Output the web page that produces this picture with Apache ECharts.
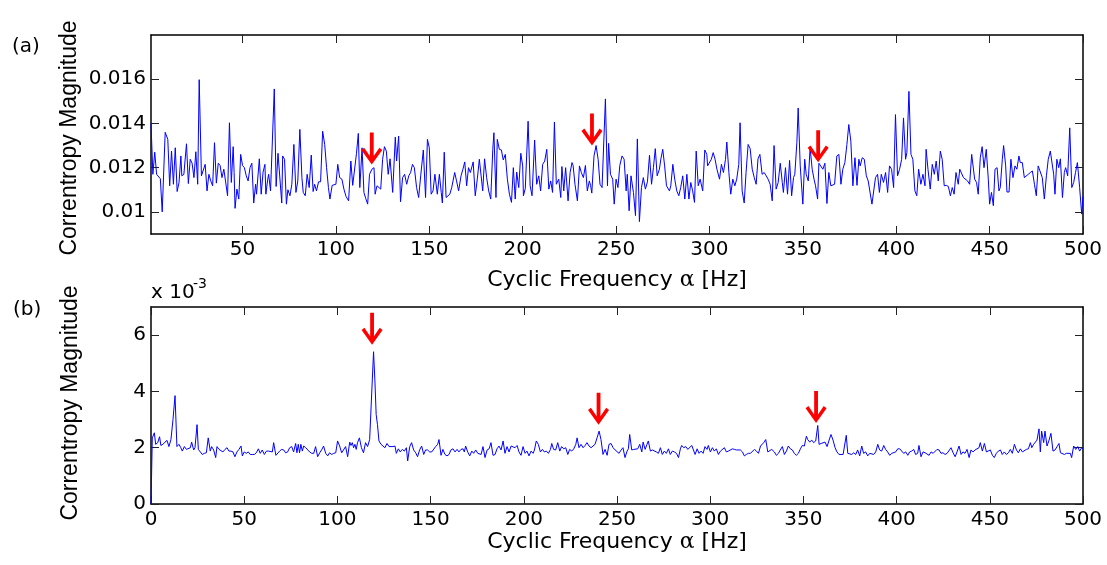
<!DOCTYPE html>
<html>
<head>
<meta charset="utf-8">
<script src="https://cdn.jsdelivr.net/npm/echarts@6/dist/echarts.min.js"></script>
<style>
html,body{margin:0;padding:0;background:#fff;}
#chart{width:1107px;height:565px;}
</style>
</head>
<body>
<div id="chart"></div>
<script>
// ---------- DATA ----------
// (a) correntropy magnitude vs cyclic frequency [Hz]
const topSpectrum = [
[1,0.0140],[2,0.0117],[3,0.0127],[4,0.0117],[5,0.01163],[6,0.0115],[7,0.0100],[8.6,0.0136],[10,0.01328],[11,0.01118],
[12,0.01275],[13,0.01125],[14,0.0129],[15,0.01092],[16,0.01133],[17,0.01253],[17.5,0.01163],[18.6,0.0117],[20,0.01308],[21,0.01128],
[22,0.01238],[23,0.0122],[24,0.01155],[25,0.01272],[26,0.01125],[26.8,0.01598],[28,0.01163],[29,0.0116],[30,0.01215],[31,0.01095],
[32,0.0117],[33,0.0114],[34,0.01118],[35,0.01313],[36,0.0113],[37,0.0122],[38,0.0121],[39,0.01155],[40,0.01193],[41,0.012],
[42,0.01073],[43,0.01403],[44,0.01133],[45,0.01295],[45.5,0.01178],[46,0.01016],[47,0.01103],[48,0.01058],[49,0.0126],[50,0.0121],
[51,0.012],[52,0.01163],[53,0.0114],[54,0.012],[55,0.0122],[56,0.0104],[57,0.01125],[57.5,0.0108],[59,0.0124],[60,0.0108],
[61,0.0118],[62,0.01215],[62.5,0.0108],[63.5,0.01148],[64,0.0117],[65,0.01095],[67,0.01556],[68,0.01115],[69,0.01265],[70,0.0127],
[71,0.0104],[71.5,0.01253],[72.5,0.01238],[73.5,0.01035],[74.3,0.011],[75.4,0.01073],[76.4,0.01125],[77.5,0.01305],[78.6,0.01088],[79.6,0.0114],
[80.7,0.01373],[81.8,0.01155],[82.5,0.01088],[83.6,0.01073],[84.6,0.0117],[85.7,0.0111],[86.8,0.01257],[87.8,0.01092],[88.6,0.01125],[89.6,0.01095],
[90.7,0.01136],[91.8,0.01136],[92.9,0.01365],[94,0.01305],[95,0.012],[96,0.0111],[96.8,0.01058],[98,0.0112],[99,0.01125],[100,0.01125],
[101,0.01215],[102,0.01155],[103.2,0.01148],[104.3,0.01103],[105.4,0.0107],[106.8,0.0105],[108,0.0123],[109,0.0112],[110,0.01125],[111,0.01263],
[112,0.01355],[112.8,0.0111],[114,0.0129],[115,0.01088],[116,0.0106],[117,0.01035],[118,0.0117],[119.3,0.01193],[120.4,0.012],[121,0.0108],
[122,0.01118],[123,0.0112],[124,0.01103],[125,0.01238],[126,0.01295],[127,0.01275],[128,0.0117],[129,0.0124],[130.4,0.01088],[131.8,0.01338],
[132.5,0.0123],[133.6,0.01343],[134.6,0.01046],[135.7,0.01155],[136.8,0.0117],[137.9,0.01125],[139,0.01163],[140,0.01178],[141,0.01215],[142,0.012],
[143.2,0.0111],[144.3,0.01065],[145.4,0.01163],[146.8,0.0128],[148,0.01065],[149,0.01328],[150,0.0129],[151,0.0108],[152,0.01095],[153,0.0117],
[154.3,0.0108],[155.4,0.0117],[156.4,0.01088],[157,0.0104],[158,0.0127],[159,0.01065],[160,0.01065],[161,0.0108],[162,0.0111],[163.6,0.01178],
[164.6,0.0114],[165.7,0.01095],[167,0.01163],[168,0.01193],[169,0.01226],[170,0.01118],[171,0.012],[172,0.01178],[173.5,0.01226],[174.6,0.01073],
[175.7,0.01148],[176.8,0.01238],[177.5,0.01238],[178.6,0.01095],[179.6,0.0124],[180.7,0.01155],[181.8,0.01095],[182.9,0.01058],[184,0.01283],[184.6,0.01358],
[185.7,0.01065],[186.4,0.01328],[187.5,0.01283],[188.6,0.0128],[189.6,0.01235],[190.7,0.0126],[191.8,0.01148],[192.9,0.0108],[194,0.01043],[195,0.012],
[196,0.01058],[196.8,0.0118],[197.9,0.0111],[199,0.01265],[200,0.01208],[200.4,0.01073],[201.4,0.01106],[202.9,0.0141],[204,0.01118],[205,0.01073],
[206.4,0.01325],[207.5,0.01125],[208.6,0.01163],[209.6,0.01095],[210.7,0.01215],[211.8,0.0123],[212.9,0.01283],[214,0.01103],[215,0.0114],[216,0.01088],
[217,0.01406],[218,0.01125],[219.3,0.01148],[220.4,0.01065],[221,0.01205],[222,0.01095],[223,0.012],[224.3,0.0105],[225.4,0.01178],[226.4,0.01223],
[227,0.0121],[228,0.01125],[229.3,0.0105],[230.4,0.01208],[231.4,0.01178],[232.5,0.01155],[233.6,0.0121],[234.6,0.01095],[235.7,0.0114],[236.4,0.01118],
[237,0.01085],[238.2,0.01253],[239.3,0.013],[240.4,0.01238],[241.4,0.01125],[242.5,0.0111],[243.2,0.01118],[244.3,0.01511],[245.4,0.01118],[246,0.0131],
[247,0.0117],[248.2,0.01148],[249,0.01035],[250,0.01148],[251,0.0111],[252,0.0121],[253.2,0.01253],[254.3,0.01238],[255.4,0.01095],[256,0.0117],
[257,0.01005],[258,0.01163],[259.3,0.01088],[260.4,0.00983],[261.4,0.0133],[262.5,0.00956],[263.6,0.0111],[264.6,0.01155],[265.7,0.01103],[266.8,0.01136],
[267.9,0.01256],[269,0.01125],[270,0.012],[271,0.01286],[272,0.01163],[273.2,0.01193],[274,0.0124],[275,0.01283],[276,0.01208],[277,0.01118],
[278.6,0.01095],[279.3,0.01118],[280.4,0.01215],[281.4,0.01148],[282.5,0.01095],[283.6,0.01073],[284.6,0.0111],[285.7,0.01163],[286.8,0.01058],[287.9,0.0117],
[289,0.01058],[290,0.01133],[291,0.01095],[292,0.01043],[292.9,0.01275],[294,0.01118],[295,0.01148],[296.4,0.01095],[297.5,0.0128],[298.6,0.0126],
[299,0.01208],[300,0.0121],[301,0.01238],[302,0.01268],[303,0.01238],[304,0.01193],[305.4,0.01148],[306.4,0.01215],[307.5,0.01178],[308.6,0.01238],
[309.3,0.01316],[310.4,0.01178],[311.4,0.0108],[312.5,0.01148],[313.6,0.01118],[314.6,0.01148],[315.7,0.01215],[316.4,0.01403],[317.5,0.01095],[318.6,0.0104],
[319.6,0.01178],[320.7,0.01305],[321.8,0.01286],[322.9,0.01193],[324,0.01155],[325,0.01125],[326,0.0124],[327,0.0126],[328.2,0.0117],[329.3,0.01178],
[330.4,0.01163],[331.4,0.01148],[332.5,0.01125],[333.6,0.0105],[334.6,0.0130],[335.7,0.01103],[336.8,0.01133],[337.9,0.0122],[339,0.01133],[339.6,0.01088],
[340.7,0.012],[341.8,0.0108],[342.9,0.01233],[344,0.01073],[345,0.01155],[345.7,0.0117],[346.8,0.01313],[347.5,0.0147],[348.6,0.01208],[350,0.01035],
[351,0.01238],[351.8,0.0117],[352.9,0.0114],[353.9,0.0129],[355,0.01193],[356,0.01148],[356.8,0.01118],[357.9,0.01058],[358.6,0.0122],[359.6,0.01223],
[360.7,0.01193],[361.8,0.0122],[362.9,0.01038],[363.9,0.01178],[365,0.01118],[366,0.01125],[367,0.01125],[368.2,0.01253],[369.3,0.0126],[370.4,0.01125],
[371.4,0.01193],[372.5,0.01223],[373.6,0.01305],[374.6,0.01395],[375.7,0.0132],[376.8,0.01118],[377.9,0.01245],[379,0.0112],[380,0.01238],[380.7,0.01208],
[381.8,0.01245],[382.9,0.01238],[384,0.01163],[385,0.0114],[386,0.0114],[387,0.01035],[387.9,0.0103],[388.9,0.01155],[390,0.0117],[391,0.01088],
[392,0.0117],[393.2,0.01133],[394.3,0.01178],[395.4,0.01088],[396.4,0.01208],[397.5,0.01193],[398.6,0.0111],[399.6,0.0144],[400.7,0.01163],[401.8,0.01193],
[402.9,0.01238],[403.9,0.01425],[405,0.01238],[405.7,0.01268],[406.8,0.01545],[407.9,0.0126],[408.9,0.01238],[410,0.01095],[411,0.01073],[412,0.01193],
[413.2,0.01125],[414.3,0.0117],[415.4,0.01118],[416,0.01283],[417,0.01193],[418.2,0.01103],[419.3,0.01215],[420.4,0.0117],[421.4,0.0123],[422.5,0.0114],
[423.6,0.01275],[424.6,0.01238],[425.7,0.01118],[426.8,0.0112],[427.9,0.01115],[429,0.01073],[430,0.0111],[431,0.0108],[432,0.01178],[433.2,0.01125],
[434,0.01193],[435,0.01193],[436,0.01155],[437,0.0115],[438.2,0.0114],[439.3,0.01125],[440.4,0.0126],[441,0.01268],[442,0.01148],[443,0.01133],
[443.9,0.0108],[445,0.01245],[446,0.01295],[447,0.012],[448.2,0.01283],[449.3,0.01148],[450,0.01035],[451,0.01088],[452,0.01028],[452.9,0.01193],
[454,0.012],[455,0.01095],[455.7,0.0111],[456.8,0.01238],[457.5,0.013],[458.6,0.01208],[459.3,0.0109],[460.4,0.0109],[461.4,0.01238],[462.5,0.01155],
[463.6,0.01208],[464.6,0.01193],[465.7,0.01253],[466.4,0.01223],[467.5,0.01223],[468.6,0.01155],[469.6,0.01163],[470.7,0.0117],[471.8,0.01178],[472.9,0.01185],
[474,0.01125],[475,0.01073],[476,0.01208],[477,0.01215],[478.2,0.01155],[479.3,0.01058],[480.4,0.01163],[481.4,0.01238],[482.5,0.01275],[483.2,0.01275],
[484.3,0.0117],[485,0.0108],[486,0.01238],[487,0.012],[487.9,0.0124],[489,0.01065],[490,0.01178],[490.7,0.012],[491.8,0.01163],[492.9,0.0138],
[494,0.0111],[495,0.01133],[496,0.01178],[497,0.01223],[498.2,0.0111],[499.3,0.0099],[500,0.0107]
];

// (b) correntropy magnitude, in units of 1e-3
const bottomSpectrum = [
[0,0],[0.7,2.35],[1.8,2.53],[2.5,2.12],[3.6,2.18],[4.6,2.39],[5.3,2.08],[6.4,2.12],[7.5,2.2],[8.6,2.26],
[9.6,2.04],[10.7,2.29],[11.8,3.0],[12.9,3.85],[13.9,2.04],[15,2.12],[16,2.0],[16.8,1.88],[17.9,2.04],[19,1.94],
[20,1.88],[21.1,2.0],[21.8,2.2],[22.9,1.92],[23.6,2.0],[24.7,2.82],[25.4,1.94],[26.4,1.92],[27.5,1.76],[28.6,1.8],
[29.7,1.82],[30.7,2.35],[31.8,1.88],[32.5,2.04],[33.6,1.92],[34.7,1.65],[35.4,2.04],[36.5,1.94],[37.5,1.96],[38.6,1.85],
[39.7,1.94],[40.8,2.0],[41.8,1.88],[42.9,1.88],[44,1.85],[45,1.68],[46.1,1.85],[47.2,1.94],[48.3,2.06],[49,1.71],
[50,1.85],[51.1,1.8],[52.2,1.85],[53.2,1.76],[54.3,1.76],[55.4,1.76],[56.5,1.82],[57.6,1.96],[58.6,1.8],[59.7,1.92],
[60.8,1.76],[61.9,1.88],[63,1.88],[64,1.92],[65.1,1.85],[65.8,2.18],[67,1.73],[68,1.71],[69,1.88],[70.1,1.94],
[71.2,1.92],[72.2,1.82],[73.3,1.85],[74.4,2.0],[75.5,2.04],[76.5,1.85],[77.6,2.15],[78.3,1.82],[79,2.12],[79.7,1.82],
[80.4,2.12],[81.2,1.88],[81.9,2.06],[83,2.0],[84,1.94],[85.1,1.85],[86.2,1.8],[87.3,1.8],[88.3,2.04],[89.4,1.68],
[90.5,1.82],[91.5,1.92],[92.6,2.06],[93.7,1.8],[94.8,1.71],[95.8,1.82],[96.9,1.76],[98,1.8],[99.1,1.82],[100.1,2.24],
[101.2,2.06],[102.3,1.82],[103.3,1.8],[104.4,2.04],[105.5,1.68],[106.6,2.2],[107.3,2.08],[108,2.18],[108.7,2.0],[109.4,2.12],
[110.1,1.94],[110.8,2.18],[111.8,2.35],[112.9,2.0],[114,1.82],[115.1,2.18],[116.2,2.04],[117.3,2.29],[118.3,2.35],[119.4,5.41],
[120.1,4.41],[120.8,3.18],[121.5,2.82],[122.3,2.24],[123.4,2.12],[124.4,2.08],[125.5,2.0],[126.6,2.15],[127.7,2.04],[128.7,2.06],
[129.8,2.04],[130.9,2.06],[131.6,1.8],[132.7,1.96],[133.7,1.85],[134.8,1.94],[135.9,1.88],[137,2.0],[137.7,1.53],[138.8,2.04],
[139.8,2.18],[140.9,1.92],[142,1.82],[143,1.68],[144.1,1.92],[145.2,2.06],[146.3,1.76],[147.3,1.92],[148.4,1.92],[149.5,1.85],
[150.6,1.85],[151.6,1.85],[152.7,2.04],[153.8,2.12],[154.5,2.29],[155.6,1.73],[156.6,1.94],[157.7,1.76],[158.8,1.71],[159.9,1.76],
[160.9,1.92],[162,1.96],[163.1,1.85],[164.2,1.94],[165.2,1.85],[166.3,1.94],[167.4,1.96],[168.1,1.85],[168.8,2.06],[169.9,1.85],
[171,1.71],[172.1,1.88],[173.1,1.8],[174.2,1.92],[175.3,1.8],[176,1.85],[177.1,1.76],[178.1,2.04],[179.2,1.65],[180.3,1.92],
[181.4,1.96],[182.4,2.18],[183.5,1.73],[184.6,1.76],[185.6,1.96],[186.7,2.06],[187.8,1.92],[188.9,2.24],[189.9,1.8],[191,2.04],
[192.1,1.85],[193.2,2.06],[194.2,2.04],[195.3,2.0],[196.4,2.08],[197.4,1.85],[198.5,1.73],[199.6,2.04],[200.7,1.8],[201.7,1.88],
[202.8,1.71],[203.9,1.88],[205,1.8],[205.7,1.92],[206.7,2.24],[207.8,2.12],[208.9,1.85],[210,1.94],[211,1.85],[212.1,1.88],
[213.2,1.8],[214.3,1.94],[215,2.15],[216,1.94],[217.1,1.92],[218.2,2.18],[219.3,1.88],[220.3,2.04],[221.4,1.96],[222.5,2.0],
[223.6,1.76],[224.6,1.94],[225.7,1.88],[226.8,1.96],[227.9,2.12],[228.6,2.35],[229.6,2.0],[230.7,2.12],[231.8,2.0],[232.9,2.08],
[233.9,2.18],[235,2.06],[236.1,2.0],[237.1,2.04],[238.2,2.12],[239.3,2.35],[240.4,2.59],[241.4,2.29],[242.5,1.76],[243.6,1.94],
[244.7,1.73],[245.7,2.12],[246.8,2.15],[247.9,2.0],[249,1.92],[250,1.85],[251.1,1.8],[252.2,1.92],[253.2,2.0],[254.3,1.65],
[255.4,1.88],[256.1,1.96],[256.8,2.47],[257.9,1.92],[259,1.94],[260,1.92],[261.1,1.96],[262.2,2.12],[263.3,1.85],[264,2.2],
[265.1,1.94],[266.1,2.12],[266.8,2.24],[267.9,1.88],[269,1.92],[270,1.85],[271.1,1.85],[272.2,1.8],[273.3,2.0],[274.3,1.76],
[275.4,1.88],[276.5,1.8],[277.6,1.96],[278.6,1.76],[279.7,1.88],[280.8,1.85],[281.9,1.8],[283,1.65],[284,1.96],[284.7,2.08],
[285.8,2.0],[286.9,2.04],[288,1.94],[289,2.0],[290.1,2.08],[290.8,2.12],[291.9,1.76],[293,1.96],[294,1.8],[295.1,1.88],
[296.2,1.8],[297.2,2.04],[298.3,1.94],[299,2.08],[300.1,1.85],[301.2,2.0],[302.2,1.88],[303.3,1.96],[304.4,1.76],[305.5,1.88],
[306.5,1.94],[307.6,2.0],[308.7,1.85],[309.8,1.88],[310.8,1.94],[311.9,1.96],[313,1.94],[314.1,1.92],[315.1,1.94],[316.2,1.92],
[317.3,1.85],[318.3,1.71],[319.4,1.76],[320.5,1.8],[321.6,1.8],[322.6,1.85],[323.7,1.94],[324.8,1.88],[325.9,1.8],[327,2.06],
[328,2.12],[328.7,2.18],[329.8,2.29],[330.9,1.85],[331.9,1.8],[333,1.94],[334.4,1.85],[335.5,1.73],[336.6,1.8],[337.6,1.92],
[338.7,2.04],[339.8,1.76],[340.9,1.88],[341.9,2.06],[343,1.96],[344.1,1.92],[345.1,1.8],[346.2,1.73],[347.3,1.8],[348.4,1.96],
[349.4,2.08],[350.5,2.06],[351.6,2.41],[352.3,2.29],[353.4,2.2],[354.5,2.27],[355.5,2.18],[356.6,2.24],[357.7,2.79],[358.4,2.12],
[359.5,2.15],[360.5,2.12],[361.6,2.2],[362.7,2.04],[363.8,2.27],[364.8,2.47],[365.9,2.27],[367,2.0],[368,1.85],[369.1,1.76],
[370.2,1.76],[371.3,1.76],[372,1.76],[373,2.44],[373.8,1.8],[374.8,1.76],[375.9,1.76],[377,1.82],[378.1,1.76],[379.1,1.92],
[380.2,1.71],[381.3,2.06],[382.3,1.8],[383.4,1.85],[384.5,1.71],[385.6,1.8],[386.6,1.82],[387.7,1.76],[388.8,1.85],[389.9,2.12],
[390.9,1.92],[392,1.88],[393.1,2.08],[394.1,1.94],[395.2,1.85],[396.3,1.73],[397.4,1.8],[398.4,1.73],[399.5,1.85],[400.6,1.96],
[401.7,1.96],[402.7,1.92],[403.8,1.8],[404.9,1.85],[406,1.73],[407,1.85],[408.1,1.88],[409.2,1.94],[410.2,1.76],[411.3,1.8],
[412,2.08],[413.1,1.68],[414.2,1.85],[415.3,1.82],[416.3,1.8],[417.4,1.73],[418.5,1.85],[419.6,1.8],[420.6,1.85],[421.7,1.94],
[422.8,1.92],[423.8,1.8],[424.9,1.82],[426,1.76],[427.1,1.8],[428.1,1.73],[429.2,2.0],[430.3,1.82],[431.4,1.68],[432.4,1.85],
[433.5,2.06],[434.6,1.76],[435.6,1.85],[436.7,1.8],[437.8,1.94],[438.9,1.65],[439.9,1.92],[441,1.85],[442.1,1.92],[443.1,1.94],
[444.2,2.0],[444.9,2.18],[446,1.88],[447.1,2.15],[448.2,1.85],[449.2,1.8],[450.3,1.92],[451.4,1.73],[452.4,1.65],[453.5,1.8],
[454.6,1.88],[455.7,1.92],[456.7,1.76],[457.8,1.85],[458.9,1.76],[460,1.82],[461,1.94],[462.1,1.8],[463.2,2.12],[464.3,1.92],
[465.3,1.82],[466.4,1.96],[467.5,1.85],[468.5,1.88],[469.6,1.94],[470.7,1.96],[471.8,2.18],[472.5,2.0],[473.5,2.12],[474.3,2.06],
[475.3,2.27],[476.4,2.67],[477.1,1.85],[477.8,2.59],[478.9,2.18],[479.6,2.59],[480.7,2.06],[481.8,2.27],[482.8,2.51],[483.9,1.88],
[485,1.92],[486.1,2.04],[487.1,2.15],[487.9,1.82],[488.9,1.8],[490,1.76],[491.1,1.8],[492.1,1.76],[493.2,1.8],[493.9,1.65],
[495,2.06],[496.1,1.94],[497.2,2.04],[498.2,1.88],[499.3,2.0],[500,1.96]
];

// red arrow markers: [frequency Hz, value at arrow tip]
const topArrows = [[119.2, 0.01214], [237.1, 0.0130], [358.2, 0.01224]];
const bottomArrows = [[118.6, 5.66], [240.1, 2.82], [356.8, 2.88]];

// tick values
const xTicksTop = [50,100,150,200,250,300,350,400,450,500];
const xTicksBottom = [0,50,100,150,200,250,300,350,400,450,500];
const yTicksTop = [0.01,0.012,0.014,0.016];
const yTicksBottom = [0,2,4,6];

const xTitle = 'Cyclic Frequency ';
const yTitle = 'Correntropy Magnitude';

// ---------- CHART ----------
const chart = echarts.init(document.getElementById('chart'), null, {renderer:'canvas'});
const FONT = 'DejaVu Sans';
const axisLine = {show:true, onZero:false, lineStyle:{color:'#000', width:1.5}};
const tickStyle = {color:'#222', width:1};

function xAx(grid, min, max, ticks, pos, labels){
  return {
    type:'value', gridIndex:grid, min:min, max:max, position:pos,
    axisLine:axisLine,
    axisTick:{show:true, inside:true, length:8, customValues:ticks, lineStyle:tickStyle},
    axisLabel:{show:labels, customValues:ticks, fontFamily:FONT, fontSize:20, color:'#000', margin:6},
    splitLine:{show:false}
  };
}
function yAx(grid, min, max, ticks, pos, labels, fmt){
  return {
    type:'value', gridIndex:grid, min:min, max:max, position:pos,
    axisLine:axisLine,
    axisTick:{show:true, inside:true, length:8, customValues:ticks, lineStyle:tickStyle},
    axisLabel:{show:labels, customValues:ticks, fontFamily:FONT, fontSize:20, color:'#000', margin:5, formatter:fmt},
    splitLine:{show:false}
  };
}
const arrowPath = 'path://M9,0 L13,0 L13,25 L19,16 L22,18.5 L11,34 L0,18.5 L3,16 L9,25 Z';

const option = {
  animation:false,
  backgroundColor:'#fff',
  grid:[
    {left:151, right:24, top:35, height:199},
    {left:151, right:24, top:307, height:197}
  ],
  xAxis:[
    xAx(0, 1, 500, xTicksTop, 'bottom', true),
    xAx(0, 1, 500, xTicksTop, 'top', false),
    xAx(1, 0, 500, xTicksBottom, 'bottom', true),
    xAx(1, 0, 500, xTicksBottom, 'top', false)
  ],
  yAxis:[
    yAx(0, 0.009, 0.018, yTicksTop, 'left', true, v => String(+(+v).toFixed(3))),
    yAx(0, 0.009, 0.018, yTicksTop, 'right', false),
    yAx(1, 0, 7, yTicksBottom, 'left', true, v => String(+v)),
    yAx(1, 0, 7, yTicksBottom, 'right', false)
  ],
  series:[
    {type:'line', xAxisIndex:0, yAxisIndex:0, data:topSpectrum, showSymbol:false, symbol:'none',
     lineStyle:{color:'#0000ff', width:1}, z:2},
    {type:'line', xAxisIndex:2, yAxisIndex:2, data:bottomSpectrum, showSymbol:false, symbol:'none',
     lineStyle:{color:'#0000ff', width:1}, z:2},
    {type:'scatter', xAxisIndex:0, yAxisIndex:0, data:topArrows, symbol:arrowPath,
     symbolSize:[21,32], symbolOffset:[0,'-50%'], itemStyle:{color:'#ff0000', opacity:1}, z:5},
    {type:'scatter', xAxisIndex:2, yAxisIndex:2, data:bottomArrows, symbol:arrowPath,
     symbolSize:[21,32], symbolOffset:[0,'-50%'], itemStyle:{color:'#ff0000', opacity:1}, z:5}
  ],
  graphic:[
    {type:'text', left:12, top:37, style:{text:'(a)', font:'20px "DejaVu Sans"', fill:'#000'}},
    {type:'text', left:13, top:300, style:{text:'(b)', font:'20px "DejaVu Sans"', fill:'#000'}},
    {type:'text', x:151, y:293, style:{text:'x 10', font:'20px "DejaVu Sans"', fill:'#000', textAlign:'left', textVerticalAlign:'middle'}},
    {type:'text', x:193, y:284, style:{text:'-3', font:'14px "DejaVu Sans"', fill:'#000', textAlign:'left', textVerticalAlign:'middle'}},
    {type:'text', x:617, y:280, style:{
      text:'{t|' + xTitle + '}{a|α}{t| [Hz]}',
      textAlign:'center', textVerticalAlign:'middle',
      rich:{t:{fontFamily:FONT, fontSize:22, fill:'#000'}, a:{fontFamily:'DejaVu Serif', fontSize:22, fill:'#000'}}
    }},
    {type:'text', x:617, y:542, style:{
      text:'{t|' + xTitle + '}{a|α}{t| [Hz]}',
      textAlign:'center', textVerticalAlign:'middle',
      rich:{t:{fontFamily:FONT, fontSize:22, fill:'#000'}, a:{fontFamily:'DejaVu Serif', fontSize:22, fill:'#000'}}
    }},
    {type:'text', x:70, y:138, rotation:Math.PI/2, style:{text:yTitle, font:'23px "Liberation Sans"', fill:'#000', textAlign:'center', textVerticalAlign:'middle'}},
    {type:'text', x:70.5, y:403, rotation:Math.PI/2, style:{text:yTitle, font:'23px "Liberation Sans"', fill:'#000', textAlign:'center', textVerticalAlign:'middle'}}
  ]
};
chart.setOption(option);
</script>
</body>
</html>
